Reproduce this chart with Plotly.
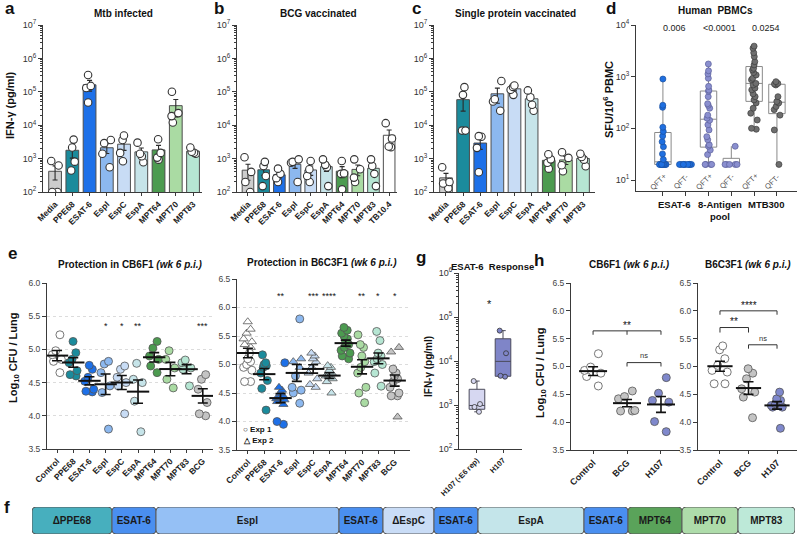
import numpy as np
import plotly.graph_objects as go

W, H = 797, 535
FONT = "Liberation Sans, Arial, Helvetica, sans-serif"

# ======================= DATA =======================
# a-c : IFN-gamma (pg/ml), individual mice
abc_antigens = ["Media", "PPE68", "ESAT-6", "EspI", "EspC", "EspA", "MPT64", "MPT70", "MPT83"]
b_antigens = abc_antigens + ["TB10.4"]

a_mtb_infected = [[850, 620, 100, 100], [3700, 2150, 810, 440], [320000, 150000, 130000, 48000],
                  [3600, 2900, 1400, 550], [4900, 3600, 1480, 830], [3000, 1400, 1180, 780],
                  [3800, 1480, 1070, 930], [100000, 23000, 18700, 12000], [2150, 1600, 1500, 1400]]
b_bcg_vaccinated = [[1100, 400, 200, 100], [800, 600, 300, 150], [500, 350, 260, 200],
                    [950, 800, 750, 200], [850, 480, 300, 200], [950, 650, 550, 150],
                    [850, 360, 350, 120], [950, 480, 270, 200], [950, 600, 350, 150],
                    [11500, 4000, 2300, 2200]]
c_single_protein = [[550, 200, 180, 130], [138000, 81000, 6900, 6900], [4700, 4500, 2100, 390],
                    [210000, 60000, 51000, 27000], [155000, 140000, 115000, 81000],
                    [110000, 69000, 41000, 27000], [1350, 950, 750, 500], [1550, 1050, 630, 420],
                    [1400, 1120, 930, 590]]

# d : human PBMC SFU / 10^6
d_groups = ["ESAT-6", "8-Antigen<br>pool", "MTB300"]
d_status = ["QFT+", "QFT-", "QFT+", "QFT-", "QFT+", "QFT-"]
d_lod = 20
d_esat6_pos = [900, 280, 255, 105, 87, 71, 55, 44, 32, 25, 20, 20, 20, 20, 20, 20, 20, 20, 20, 20]
d_esat6_neg = [20, 20, 20, 20, 20, 20, 20, 20, 20]
d_8ag_pos = [1760, 1300, 1130, 930, 650, 550, 520, 410, 300, 280, 245, 180, 157, 143, 117, 93,
             69, 60, 48, 45, 38, 31, 20, 20, 20, 20]
d_8ag_neg = [45, 20, 20, 20, 20, 20]
d_mtb300_pos = [3900, 3550, 2900, 2440, 1950, 1690, 1450, 1350, 1200, 1080, 930, 870, 740, 690,
                600, 555, 465, 410, 355, 310, 245, 196, 145, 100, 96]
d_mtb300_neg = [800, 740, 720, 690, 410, 330, 310, 265, 230, 180, 93, 20]
d_pvalues = ["0.006", "<0.0001", "0.0254"]

# e : Log10 CFU / lung
e_groups = ["Control", "PPE68", "ESAT-6", "EspI", "EspC", "EspA", "MPT64", "MPT70", "MPT83", "BCG"]
e_cb6f1 = [[5.22, 4.98, 4.92, 4.85, 4.82, 4.65], [5.12, 4.95, 4.85, 4.80, 4.68, 4.60, 4.62],
           [4.76, 4.70, 4.58, 4.52, 4.40, 4.37, 4.36], [4.82, 4.78, 4.65, 4.45, 4.35, 3.80],
           [4.75, 4.70, 4.58, 4.50, 4.45, 4.03], [4.79, 4.55, 4.50, 4.22, 3.76],
           [5.12, 5.02, 4.90, 4.85, 4.75, 4.65], [4.98, 4.85, 4.72, 4.55, 4.42],
           [4.84, 4.80, 4.72, 4.70, 4.45], [4.62, 4.55, 4.40, 4.20, 4.03, 4.00]]
e_cb6f1_stars = ["", "", "", "*", "*", "**", "", "", "", "***"]
e_b6c3f1_exp1 = [[5.2, 5.1, 5.05, 5.0, 4.95, 4.9, 4.7, 4.7], [5.17, 5.03, 5.0, 4.98, 4.95, 4.85, 4.72, 4.58, 4.2],
                 [5.03, 4.0, 3.95], [5.8, 4.8, 4.6, 4.55, 4.5, 4.32], [], [],
                 [5.65, 5.6, 5.55, 5.5, 5.45, 5.4, 5.35, 5.3, 5.25, 5.2, 5.15, 5.1],
                 [5.52, 5.35, 5.3, 5.15, 5.05, 4.95, 4.85, 4.6, 4.5, 4.33],
                 [5.58, 5.42, 5.2, 5.15, 5.1, 5.05, 5.0, 4.85, 4.62],
                 [4.92, 4.85, 4.8, 4.75, 4.7, 4.6, 4.5, 4.45, 4.45]]
e_b6c3f1_exp2 = [[5.75, 5.62, 5.55, 5.45, 5.4, 5.35, 5.3], [],
                 [4.6, 4.55, 4.5, 4.45, 4.42, 4.4, 4.38, 4.35, 4.3], [5.1, 5.05, 4.95],
                 [5.2, 5.15, 5.1, 5.05, 4.95, 4.85, 4.75, 4.65, 4.6],
                 [4.98, 4.95, 4.9, 4.85, 4.82, 4.8, 4.75, 4.7, 4.5], [], [], [],
                 [5.3, 5.22, 4.08]]
e_b6c3f1_stars = ["", "", "**", "", "***", "****", "", "**", "*", "*"]

# g : ESAT-6 response (pg/ml)
g_groups = ["H107 (-E6 rep)", "H107"]
g_h107_minus_e6 = [3500, 1050, 900, 700]
g_h107 = [49000, 15000, 4600, 4400]

# h : Log10 CFU / lung
h_groups = ["Control", "BCG", "H107"]
h_cb6f1 = [[5.23, 4.99, 4.93, 4.88, 4.82, 4.65], [4.56, 4.46, 4.42, 4.21, 4.20, 4.20],
           [4.80, 4.52, 4.39, 4.36, 4.01, 3.83]]
h_b6c3f1 = [[5.37, 5.30, 5.14, 5.02, 4.93, 4.90, 4.69, 4.69],
            [4.96, 4.88, 4.78, 4.60, 4.54, 4.45, 4.08],
            [4.54, 4.42, 4.39, 4.33, 4.30, 4.27, 4.27, 3.89]]

# f : H107 construct layout (relative segment lengths)
f_segments = ["ΔPPE68", "ESAT-6", "EspI", "ESAT-6", "ΔEspC", "ESAT-6", "EspA", "ESAT-6", "MPT64", "MPT70", "MPT83"]
f_lengths = [80, 44, 183, 44, 51, 44, 106, 44, 54, 56, 57]

# ======================= STYLE =======================
COL = {"Media": "#cdcdcd", "PPE68": "#1b8b9c", "ESAT-6": "#1d70e8", "EspI": "#8cb8ef",
       "EspC": "#c8dcf5", "EspA": "#c6e4e9", "MPT64": "#4c9b50", "MPT70": "#aadba3",
       "MPT83": "#b6e6d3", "TB10.4": "#ffffff", "Control": "#ffffff", "BCG": "#c4c4c4",
       "H107": "#7f88cc"}
F_COL = {"ΔPPE68": "#47afbe", "ESAT-6": "#4a8ff0", "EspI": "#95c0f5", "ΔEspC": "#c9dcf6",
         "EspA": "#c4e5ea", "MPT64": "#5aa35a", "MPT70": "#aedcaa", "MPT83": "#bde9d8"}
D_COL = ["#1f6fe0", "#1f6fe0", "#8a8fcf", "#8a8fcf", "#6e6e6e", "#6e6e6e"]
D_EDGE = ["#1a4f9e", "#1a4f9e", "#5a5f9a", "#5a5f9a", "#3c3c3c", "#3c3c3c"]

fig = go.Figure()
layout_axes = {}
shapes = []
annotations = []


def refs(i):
    s = "" if i == 1 else str(i)
    return "x" + s, "y" + s


def add_axes(i, xpx, ypx, xkw, ykw):
    xr, yr = refs(i)
    s = "" if i == 1 else str(i)
    base = dict(showline=True, linecolor="#3a3a3a", linewidth=1, ticks="outside", ticklen=4,
                tickwidth=1, tickcolor="#3a3a3a", showgrid=False, zeroline=False, fixedrange=True,
                automargin=False, tickfont=dict(family=FONT, size=9, color="#333"))
    xd = dict(base)
    xd.update(domain=[xpx[0] / W, xpx[1] / W], anchor=yr)
    xd.update(xkw)
    yd = dict(base)
    yd.update(domain=[1 - ypx[1] / H, 1 - ypx[0] / H], anchor=xr)
    yd.update(ykw)
    layout_axes["xaxis" + s] = xd
    layout_axes["yaxis" + s] = yd


def log_axis(lo, hi, rng=None, minor=True):
    vals = [10 ** k for k in range(lo, hi + 1)]
    text = ["10<sup>%d</sup>" % k for k in range(lo, hi + 1)]
    d = dict(type="log", range=rng if rng else [lo, hi], tickvals=vals, ticktext=text)
    if minor:
        d["minor"] = dict(tickvals=[m * 10 ** k for k in range(lo, hi) for m in range(2, 10)],
                          ticks="outside", ticklen=2, tickcolor="#3a3a3a")
    return d


def sem(v):
    v = np.asarray(v, float)
    return float(np.std(v, ddof=1) / np.sqrt(len(v)))


def px_ann(text, x, y, size=10, color="#111", angle=0, xanchor="center", yanchor="middle"):
    annotations.append(dict(text=text, x=x / W, y=1 - y / H, xref="paper", yref="paper",
                            showarrow=False, textangle=angle, xanchor=xanchor, yanchor=yanchor,
                            font=dict(family=FONT, size=size, color=color)))


def data_ann(i, text, x, y, size=9, color="#111"):
    xr, yr = refs(i)
    annotations.append(dict(text=text, x=x, y=y, xref=xr, yref=yr, showarrow=False,
                            font=dict(family=FONT, size=size, color=color)))


def seg(i, x0, y0, x1, y1):
    xr, yr = refs(i)
    shapes.append(dict(type="line", xref=xr, yref=yr, x0=x0, y0=y0, x1=x1, y1=y1,
                       line=dict(color="#333", width=1)))


def bracket(i, x0, x1, ytop, yleg, mid=None):
    seg(i, x0, yleg, x0, ytop)
    seg(i, x0, ytop, x1, ytop)
    seg(i, x1, ytop, x1, yleg)
    if mid is not None:
        seg(i, mid, ytop, mid, yleg)


def strip(i, cats, groups, colors, symbol="circle", size=8, jitter=0.85, width=0.8, edge="#555"):
    xr, yr = refs(i)
    for c, v, col in zip(cats, groups, colors):
        if len(v) == 0:
            continue
        fig.add_trace(go.Box(x=[c] * len(v), y=v, orientation="v", boxpoints="all", jitter=jitter,
                             pointpos=0, width=width, fillcolor="rgba(0,0,0,0)",
                             line=dict(width=0, color="rgba(0,0,0,0)"),
                             marker=dict(color=col, symbol=symbol, size=size,
                                         line=dict(color=edge, width=0.8)),
                             xaxis=xr, yaxis=yr, hoverinfo="skip", showlegend=False))


def mean_sem(i, cats, groups, lw=16):
    xr, yr = refs(i)
    fig.add_trace(go.Scatter(x=cats, y=[float(np.mean(g)) for g in groups], mode="markers",
                             marker=dict(symbol="line-ew", size=lw, color="#111",
                                         line=dict(color="#111", width=2)),
                             error_y=dict(type="data", array=[sem(g) for g in groups],
                                          color="#111", thickness=1.6, width=5),
                             xaxis=xr, yaxis=yr, hoverinfo="skip", showlegend=False))


def bar_panel(i, cats, vals):
    xr, yr = refs(i)
    fig.add_trace(go.Bar(x=cats, y=[float(np.mean(v)) for v in vals], width=0.74,
                         marker=dict(color=[COL[c] for c in cats], line=dict(color="#4d4d4d", width=1)),
                         error_y=dict(type="data", array=[sem(v) for v in vals], color="#2b2b2b",
                                      thickness=1.1, width=2.5),
                         xaxis=xr, yaxis=yr, hoverinfo="skip", showlegend=False))
    xs = [c for c, v in zip(cats, vals) for _ in v]
    ys = [y for v in vals for y in v]
    fig.add_trace(go.Box(x=xs, y=ys, orientation="v", boxpoints="all", jitter=0.75, pointpos=0,
                         width=0.7, fillcolor="rgba(0,0,0,0)", line=dict(width=0, color="rgba(0,0,0,0)"),
                         marker=dict(color="white", size=7.5, line=dict(color="#333", width=1.1)),
                         xaxis=xr, yaxis=yr, hoverinfo="skip", showlegend=False))


xlab_bold = dict(family=FONT, size=8.5, color="#222", weight="bold")

# ---------------- a, b, c ----------------
bar_panel(1, abc_antigens, a_mtb_infected)
add_axes(1, (43, 202), (25, 192),
         dict(type="category", range=[-0.7, 8.52], tickangle=-45, tickfont=xlab_bold, ticklen=3),
         log_axis(2, 7))
bar_panel(2, b_antigens, b_bcg_vaccinated)
add_axes(2, (237, 397), (25, 192),
         dict(type="category", range=[-0.7, 9.5], tickangle=-45, tickfont=xlab_bold, ticklen=3),
         log_axis(2, 7))
bar_panel(3, abc_antigens, c_single_protein)
add_axes(3, (434, 595), (25, 192),
         dict(type="category", range=[-0.7, 8.7], tickangle=-45, tickfont=xlab_bold, ticklen=3),
         log_axis(2, 7))

# ---------------- d ----------------
d_sets = [d_esat6_pos, d_esat6_neg, d_8ag_pos, d_8ag_neg, d_mtb300_pos, d_mtb300_neg]
for k, v in enumerate(d_sets):
    q1, med, q3 = np.percentile(v, [25, 50, 75], method="weibull")
    fig.add_trace(go.Box(x=[k], q1=[q1], median=[med], q3=[q3], lowerfence=[min(v)],
                         upperfence=[max(v)], orientation="v", width=0.72, whiskerwidth=0,
                         fillcolor="rgba(255,255,255,0)", line=dict(color="#8a8a8a", width=1),
                         boxpoints=False, xaxis="x4", yaxis="y4", hoverinfo="skip", showlegend=False))
    fig.add_trace(go.Box(x=[k] * len(v), y=v, orientation="v", boxpoints="all",
                         jitter=0.9 if k in (1, 3) else 0.5, pointpos=0, width=0.72,
                         fillcolor="rgba(0,0,0,0)", line=dict(width=0, color="rgba(0,0,0,0)"),
                         marker=dict(color=D_COL[k], size=6, line=dict(color=D_EDGE[k], width=0.7)),
                         xaxis="x4", yaxis="y4", hoverinfo="skip", showlegend=False))
add_axes(4, (636, 797), (25, 191),
         dict(range=[-1.18, 5.88], tickvals=list(range(6)), showticklabels=False, ticklen=4),
         log_axis(1, 4, rng=[0.787, 4], minor=False))
shapes.append(dict(type="line", xref="x4", yref="y4", x0=-0.9, x1=5.88, y0=np.log10(d_lod),
                   y1=np.log10(d_lod), line=dict(color="#444", width=1, dash="dot")))
for j, p in enumerate(d_pvalues):
    x0, x1 = 2 * j, 2 * j + 1
    leg = 3.52 if j < 2 else 3.68
    bracket(4, x0, x1, 3.81, leg)
    data_ann(4, p, (x0 + x1) / 2, 3.95, size=9, color="#222")
for k, s in enumerate(d_status):
    annotations.append(dict(text=s, x=k - 0.2, y=1 - 181 / H, xref="x4", yref="paper",
                            showarrow=False, textangle=-45,
                            font=dict(family=FONT, size=7.5, color="#555")))
for j, g in enumerate(d_groups):
    annotations.append(dict(text="<b>%s</b>" % g, x=2 * j + 0.5, y=1 - 197 / H, xref="x4",
                            yref="paper", yanchor="top", showarrow=False,
                            font=dict(family=FONT, size=9.5, color="#111")))

# ---------------- e ----------------
e_cols = [COL.get(g) for g in e_groups]
strip(5, e_groups, e_cb6f1, e_cols, size=8)
mean_sem(5, e_groups, e_cb6f1)
add_axes(5, (47, 213), (283, 449),
         dict(type="category", range=[-0.62, 9.63], tickangle=-45, tickfont=xlab_bold, ticklen=3),
         dict(range=[3.5, 6.0], dtick=0.5, tickformat=".1f", showgrid=True, gridcolor="#dcdcdc",
              griddash="dot", gridwidth=1, tickfont=dict(family=FONT, size=8.5, color="#444")))
for k, s in enumerate(e_cb6f1_stars):
    if s:
        data_ann(5, s, k, 5.36, size=9)

strip(6, e_groups, e_b6c3f1_exp1, e_cols, size=8)
strip(6, e_groups, e_b6c3f1_exp2, e_cols, symbol="triangle-up", size=8)
e_b6_all = [a + b for a, b in zip(e_b6c3f1_exp1, e_b6c3f1_exp2)]
mean_sem(6, e_groups, e_b6_all)
add_axes(6, (237, 410), (279, 450),
         dict(type="category", range=[-0.67, 9.94], tickangle=-45, tickfont=xlab_bold, ticklen=3,
              categoryorder="array", categoryarray=e_groups),
         dict(range=[3.5, 6.5], dtick=0.5, tickformat=".1f", showgrid=True, gridcolor="#dcdcdc",
              griddash="dot", gridwidth=1, tickfont=dict(family=FONT, size=8.5, color="#444")))
for k, s in enumerate(e_b6c3f1_stars):
    if s:
        data_ann(6, s, k, 6.2, size=9)

# ---------------- g ----------------
g_fill = ["#d6d7f1", "#7f85c8"]
for c, v, fc in zip(g_groups, [g_h107_minus_e6, g_h107], g_fill):
    fig.add_trace(go.Box(x=[c] * len(v), y=v, orientation="v", quartilemethod="exclusive",
                         boxpoints="all", jitter=0.5, pointpos=0, width=0.6, whiskerwidth=0.35,
                         fillcolor=fc, line=dict(color="#4a4a5a", width=1),
                         marker=dict(color=fc, size=5, line=dict(color="#333", width=0.8)),
                         xaxis="x7", yaxis="y7", hoverinfo="skip", showlegend=False))
add_axes(7, (459, 522), (273, 449),
         dict(type="category", range=[-0.69, 1.73], tickangle=-45,
              tickfont=dict(family=FONT, size=7.5, color="#222", weight="bold"), ticklen=3),
         log_axis(2, 6))
bracket(7, 0, 1, 5.16, 5.07)
data_ann(7, "*", 0.5, 5.3, size=11)

# ---------------- h ----------------
h_cols = [COL[g] for g in h_groups]
strip(8, h_groups, h_cb6f1, h_cols, size=8, width=0.7)
mean_sem(8, h_groups, h_cb6f1, lw=20)
add_axes(8, (571, 680), (283, 450),
         dict(type="category", range=[-0.65, 2.56], tickangle=-45,
              tickfont=dict(family=FONT, size=9, color="#222", weight="bold"), ticklen=3),
         dict(range=[3.5, 6.5], dtick=0.5, tickformat=".1f",
              tickfont=dict(family=FONT, size=8.5, color="#444")))
bracket(8, 0, 2, 5.64, 5.57, mid=1)
data_ann(8, "**", 1, 5.74, size=10)
bracket(8, 1, 2, 5.07, 5.0)
data_ann(8, "ns", 1.5, 5.2, size=7.5, color="#333")

strip(9, h_groups, h_b6c3f1, h_cols, size=8, width=0.8)
mean_sem(9, h_groups, h_b6c3f1, lw=18)
add_axes(9, (698, 797), (283, 450),
         dict(type="category", range=[-0.77, 2.7], tickangle=-45,
              tickfont=dict(family=FONT, size=9, color="#222", weight="bold"), ticklen=3),
         dict(range=[3.5, 6.5], dtick=0.5, tickformat=".1f",
              tickfont=dict(family=FONT, size=8.5, color="#444")))
bracket(9, 0, 2, 6.0, 5.93)
data_ann(9, "****", 1, 6.1, size=10)
bracket(9, 0, 1, 5.70, 5.61)
data_ann(9, "**", 0.5, 5.8, size=10)
bracket(9, 1, 2, 5.39, 5.32)
data_ann(9, "ns", 1.5, 5.5, size=7.5, color="#333")

# ---------------- f ----------------
f_starts = np.concatenate([[0], np.cumsum(f_lengths)[:-1]]).tolist()
fig.add_trace(go.Bar(y=["f"] * len(f_segments), x=f_lengths, base=f_starts, orientation="h",
                     width=1, text=["<b>%s</b>" % s for s in f_segments], textposition="inside",
                     insidetextanchor="middle", textangle=0,
                     textfont=dict(family=FONT, size=10, color="#1a1a1a"),
                     marker=dict(color=[F_COL[s] for s in f_segments],
                                 line=dict(color="#5a5a5a", width=1), cornerradius=4),
                     xaxis="x10", yaxis="y10", hoverinfo="skip", showlegend=False))
add_axes(10, (32, 795), (507, 534), dict(range=[0, sum(f_lengths)], visible=False),
         dict(range=[-0.5, 0.5], visible=False))

# ---------------- text ----------------
for t, x, y in [("a", 10, 9), ("b", 219, 9), ("c", 416, 9), ("d", 611, 9), ("e", 12, 254),
                ("g", 421, 257), ("h", 539, 260), ("f", 7, 507)]:
    px_ann("<b>%s</b>" % t, x, y, size=17, color="#111")

for t, x, y in [("Mtb infected", 123, 14), ("BCG vaccinated", 318, 14),
                ("Single protein vaccinated", 515, 14), ("Human  PBMCs", 715, 10),
                ("Protection in CB6F1 <i>(wk 6 p.i.)</i>", 130, 265),
                ("Protection in B6C3F1 <i>(wk 6 p.i.)</i>", 322, 262),
                ("CB6F1 <i>(wk 6 p.i.)</i>", 629, 265),
                ("B6C3F1 <i>(wk 6 p.i.)</i>", 748, 265)]:
    px_ann("<b>%s</b>" % t, x, y, size=10)
px_ann("<b>ESAT-6  Response</b>", 492, 266, size=9.5)

px_ann("<b>IFN-γ (pg/ml)</b>", 10, 105, size=11, angle=-90)
px_ann("<b>SFU/10<sup>6</sup> PBMC</b>", 608, 100, size=11, angle=-90)
px_ann("<b>Log<sub>10</sub> CFU / Lung</b>", 14, 358, size=11, angle=-90)
px_ann("<b>IFN-γ (pg/ml)</b>", 428, 367, size=10, angle=-90)
px_ann("<b>Log<sub>10</sub> CFU / Lung</b>", 541, 373, size=11, angle=-90)
px_ann("<b>○ Exp 1</b>", 241, 429, size=8, xanchor="left")
px_ann("<b>△ Exp 2</b>", 241, 440, size=8, xanchor="left")

fig.update_layout(template="none", width=W, height=H, margin=dict(l=0, r=0, t=0, b=0, pad=0),
                  autosize=False, paper_bgcolor="white", plot_bgcolor="white", showlegend=False,
                  boxmode="overlay", barmode="overlay", shapes=shapes, annotations=annotations,
                  font=dict(family=FONT, color="#222"), **layout_axes)
fig.write_html("out.html", config={"displayModeBar": False, "staticPlot": True},
               post_script="document.body.style.margin='0';")
